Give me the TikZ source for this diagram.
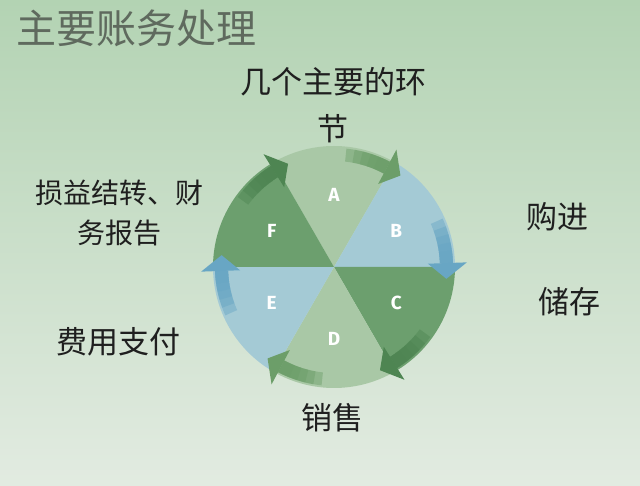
\documentclass[tikz,border=0pt]{standalone}
\usepackage{fontspec}
\setmainfont{Noto Sans CJK SC}
\newfontfamily\letterfont{Fira Sans}
\usetikzlibrary{positioning}
\definecolor{bgtop}{HTML}{B3D3B3}
\definecolor{bgbot}{HTML}{E2EBE1}
\definecolor{seclight}{HTML}{A9C8A6}
\definecolor{secblue}{HTML}{A4CAD5}
\definecolor{secdark}{HTML}{6C9F6E}
\definecolor{arrgreen}{HTML}{6C9E69}
\definecolor{arrblue}{HTML}{68A6C4}
\definecolor{arrdark}{HTML}{4E8552}
\definecolor{titlegray}{HTML}{5F6A5E}
\begin{document}
\begin{tikzpicture}[x=1pt, y=1pt, node distance=47pt]
    \tikzstyle{caption} = [inner sep=0pt, text=black!88, align=center,
    font=\fontsize{31}{47}\selectfont]
    \tikzstyle{letter} = [inner sep=0pt, text=white,
    font=\letterfont\bfseries\fontsize{19}{19}\selectfont]
    \useasboundingbox (0,0) rectangle (640,485);
    \fill[top color=bgtop, bottom color=bgbot] (0,0) rectangle (640,485);
    \node[anchor=west, inner sep=0pt, text=titlegray,
        font=\fontsize{40}{40}\selectfont] (title) at (16,457) {主要账务处理};
    \coordinate (hub) at (334,218);
    % the six slices
    \foreach \a/\c in {60/seclight, 0/secblue, -60/secdark,
        -120/seclight, 180/secblue, 120/secdark}
        \fill[\c] (hub) -- ++(\a:121) arc[start angle=\a, end angle=\a+60,
            radius=121] -- cycle;
    % clockwise arrows on the rim
    \begin{scope}[shift={(hub)}]
    \foreach \e/\c in {60/arrgreen, 0/arrblue, -60/arrdark,
        -120/arrgreen, 180/arrblue, 120/arrdark} {
        \foreach \k in {0,...,4}
            \fill[\c, opacity=0.45] (\e+24-4*\k:106)
                arc[start angle=\e+24-4*\k, end angle=\e+2, radius=106]
                -- (\e+2:119)
                arc[start angle=\e+2, end angle=\e+24-4*\k, radius=119]
                -- cycle;
        \fill[\c] (\e+2:106) -- (\e+2:94) -- (\e-6:113) -- (\e+2:133)
            -- (\e+2:119) -- cycle;
    }
    \end{scope}
    \foreach \n/\a in {A/90, B/30, C/-30, D/-90, E/-150, F/150}
        \node[letter] (\n) at ([shift={(\a:72)}]hub) {\n};
    \node[caption] (steps) at (333,380) {几个主要的环\\节};
    \node[caption] (buy) at (557,268) {购进};
    \node[caption] (store) at (569,183) {储存};
    \node[caption] (sell) at (332,67) {销售};
    \node[caption] (pay) at (118,143) {费用支付};
    \node[caption, font=\fontsize{28}{40}\selectfont] (report) at (119,272)
        {损益结转、财\\务报告};
\end{tikzpicture}
\end{document}
